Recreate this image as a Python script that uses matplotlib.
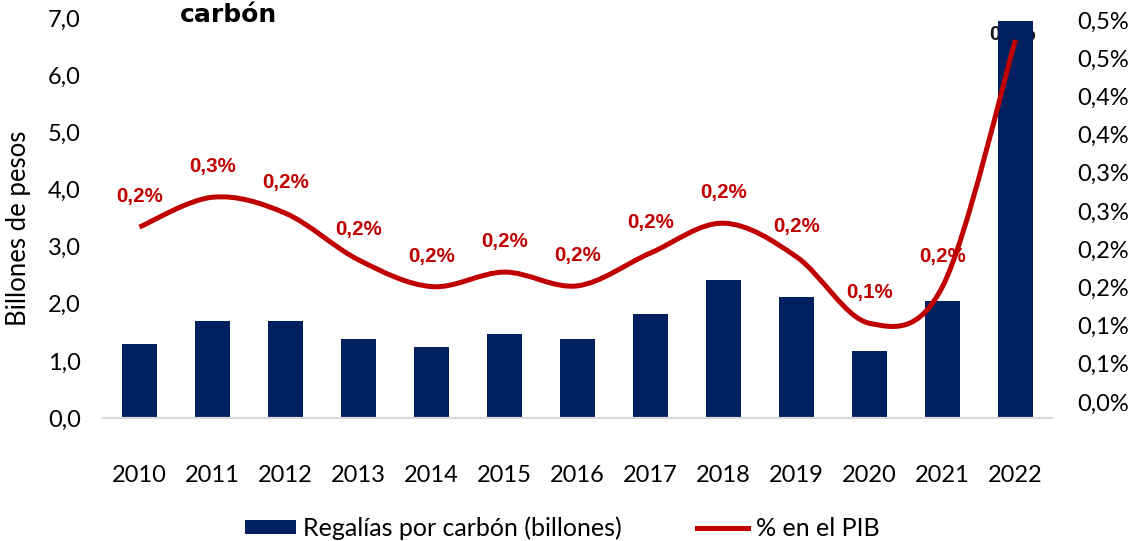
import numpy as np
import matplotlib
matplotlib.use("Agg")
import matplotlib.pyplot as plt
from matplotlib.path import Path
from matplotlib.patches import PathPatch, Patch
from matplotlib.lines import Line2D

plt.rcParams['font.family'] = ['Lato', 'DejaVu Sans']

# Datos
anios = ["2010", "2011", "2012", "2013", "2014", "2015", "2016",
         "2017", "2018", "2019", "2020", "2021", "2022"]
regalias = [1.30, 1.70, 1.70, 1.39, 1.25, 1.47, 1.39, 1.82, 2.42, 2.12, 1.18, 2.04, 6.95]
pct_pib = [0.229, 0.268, 0.247, 0.186, 0.151, 0.170, 0.152, 0.195, 0.234, 0.190, 0.103, 0.151, 0.474]
etiquetas = ["0,2%", "0,3%", "0,2%", "0,2%", "0,2%", "0,2%", "0,2%",
             "0,2%", "0,2%", "0,2%", "0,1%", "0,2%", "0,5%"]
ticks_izq = [0, 1, 2, 3, 4, 5, 6, 7]
ticks_der = [0.0, 0.05, 0.10, 0.15, 0.20, 0.25, 0.30, 0.35, 0.40, 0.45, 0.50]
ticks_der_txt = ["0,0%", "0,1%", "0,1%", "0,2%", "0,2%", "0,3%", "0,3%",
                 "0,4%", "0,4%", "0,5%", "0,5%"]

azul = "#002060"
rojo = "#C00000"

fig = plt.figure(figsize=(11.38, 5.41), dpi=100)
ax = fig.add_axes([103 / 1138, 123 / 541, 949 / 1138, 400 / 541])
ax2 = ax.twinx()

x = np.arange(len(anios))
ax.bar(x, regalias, width=0.47, color=azul, zorder=2)
ax.set_xlim(-0.5, len(anios) - 0.5)
ax.set_ylim(0, 7)
ax.set_yticks(ticks_izq)
ax.set_yticklabels([f"{t:.1f}".replace(".", ",") for t in ticks_izq])
ax.set_xticks(x)
ax.set_xticklabels(anios)
ax.tick_params(axis="both", length=0, labelsize=17, colors="black")
ax.tick_params(axis="x", pad=34)
ax.tick_params(axis="y", pad=16)
ax.set_ylabel("Billones de pesos", fontsize=18.5)
ax.yaxis.set_label_coords(-0.076, 0.475)
for s in ["top", "right", "left"]:
    ax.spines[s].set_visible(False)
ax.spines["bottom"].set_color("#d9d9d9")
ax.spines["bottom"].set_linewidth(1.6)

# linea suavizada (bezier tipo Excel)
pts = np.column_stack([x, pct_pib])
n = len(pts)
verts = [tuple(pts[0])]
codes = [Path.MOVETO]
for i in range(n - 1):
    p_prev = pts[max(i - 1, 0)]
    p0 = pts[i]
    p1 = pts[i + 1]
    p_next = pts[min(i + 2, n - 1)]
    c1 = p0 + (p1 - p_prev) / 6
    c2 = p1 - (p_next - p0) / 6
    verts += [tuple(c1), tuple(c2), tuple(p1)]
    codes += [Path.CURVE4] * 3
ax2.add_patch(PathPatch(Path(verts, codes), facecolor="none", edgecolor=rojo,
                        lw=3.6, capstyle="butt", zorder=3))

ax2.set_ylim(-0.021, 0.5026)
ax2.set_yticks(ticks_der)
ax2.set_yticklabels(ticks_der_txt)
ax2.tick_params(axis="y", length=0, labelsize=17, pad=18)
for s in ax2.spines.values():
    s.set_visible(False)

# etiquetas de datos
for i in range(n - 1):
    ax2.annotate(etiquetas[i], (x[i], pct_pib[i]), xytext=(0, 22),
                 textcoords="offset points", ha="center", va="center",
                 fontsize=14.8, fontweight="bold", color=rojo,
                 family=["Liberation Sans"])
ax.annotate(etiquetas[-1], (x[-1], pct_pib[-1]), xycoords=ax2.transData,
            xytext=(-2, 4), textcoords="offset points", ha="center", va="center",
            fontsize=14.8, fontweight="bold", color="#1a1a1a",
            family=["Liberation Sans"], zorder=1)

fig.text(180 / 1138, 1 - 22 / 541, "carbón", fontsize=18, fontweight="bold",
         family=["DejaVu Sans"], ha="left", va="baseline")

handles = [Patch(facecolor=azul, edgecolor="none"),
           Line2D([0], [0], color=rojo, lw=3.6)]
fig.legend(handles, ["Regalías por carbón (billones)", "% en el PIB"],
           loc="center", bbox_to_anchor=(562 / 1138, 13 / 541), ncol=2,
           frameon=False, fontsize=18, handlelength=2.04, handleheight=0.5,
           handletextpad=0.3, columnspacing=3.0, borderpad=0, borderaxespad=0)

fig.savefig("out.png", dpi=100)
